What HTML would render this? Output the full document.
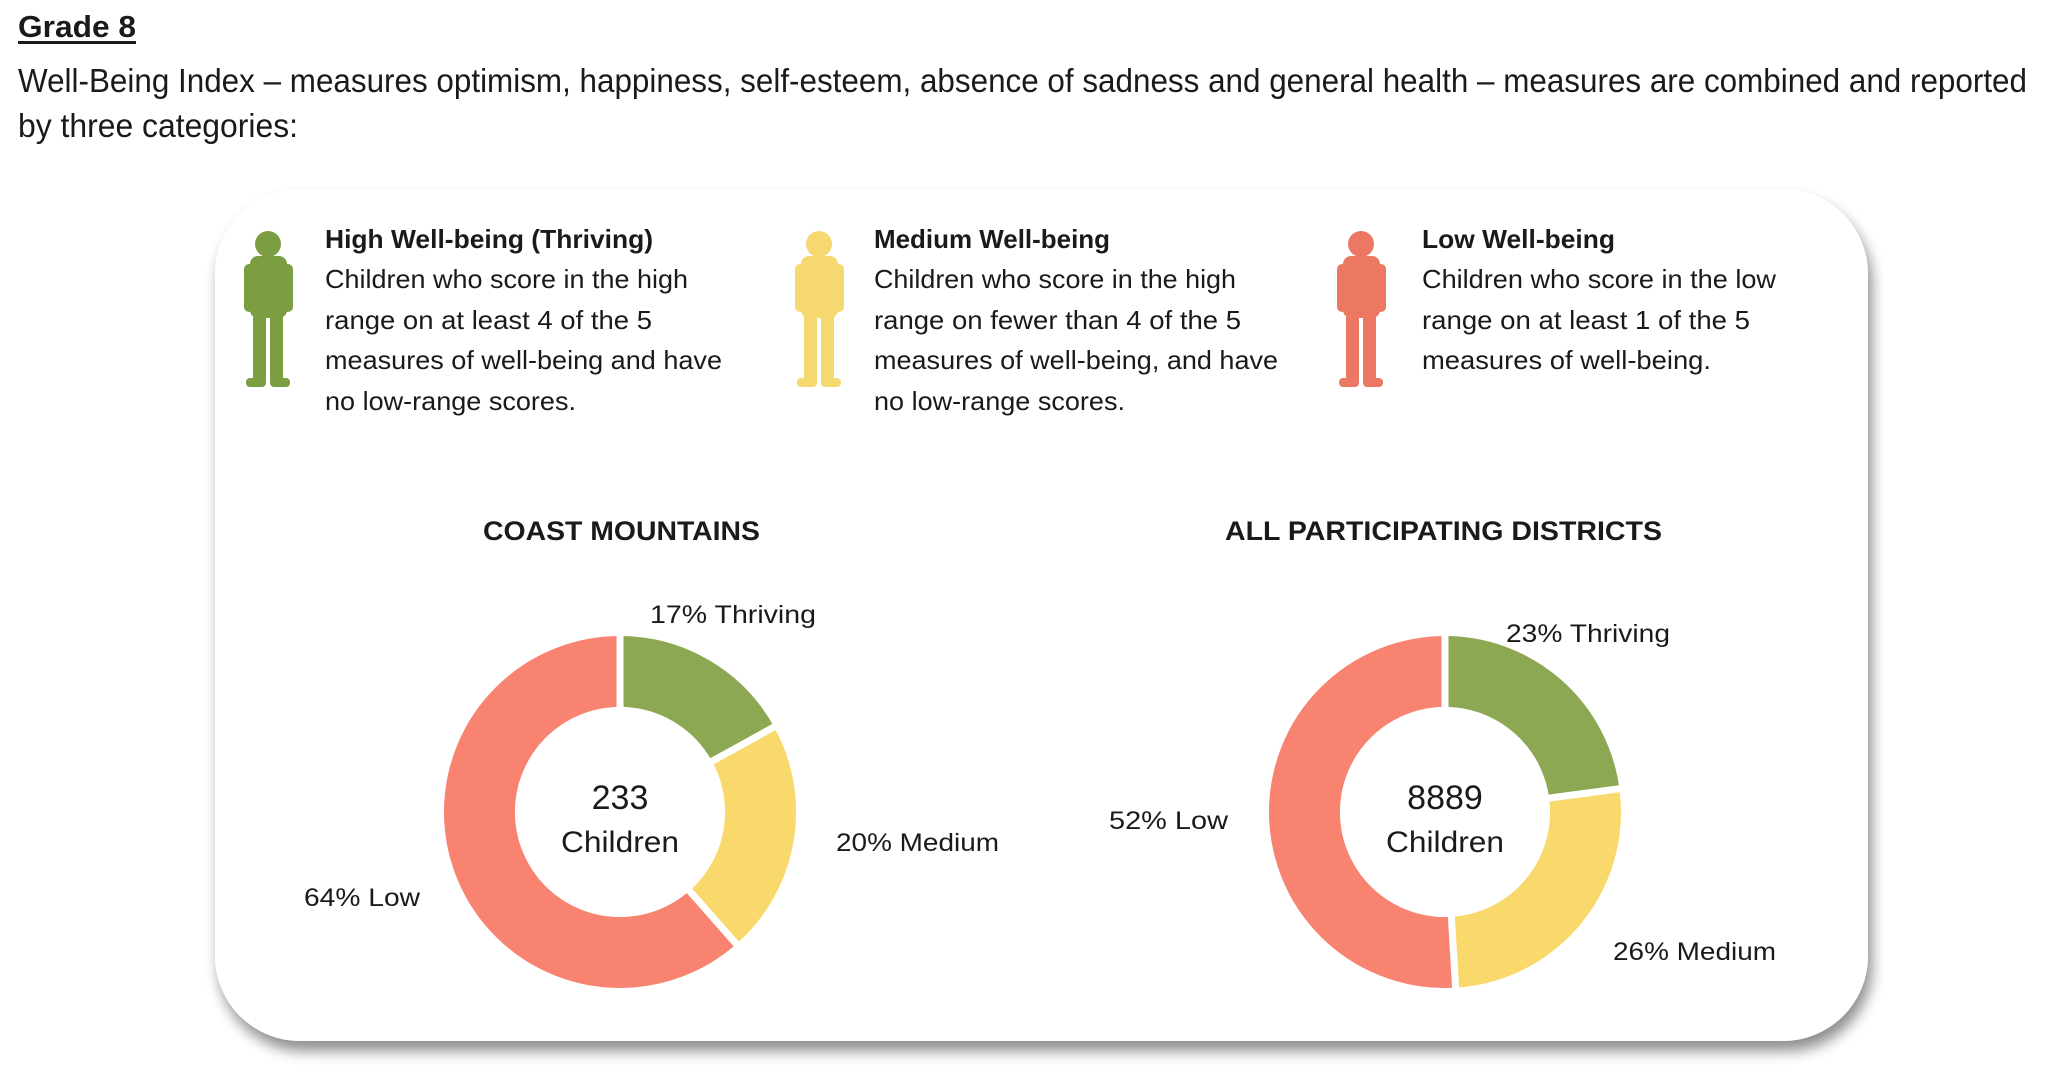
<!DOCTYPE html>
<html><head><meta charset="utf-8"><style>
html,body{margin:0;padding:0;background:#fff}
svg{display:block}
text{font-family:"Liberation Sans",sans-serif;fill:#1a1a1a}
.c{font-family:"Liberation Sans",sans-serif;fill:#333}
</style></head><body>
<svg width="2048" height="1076" viewBox="0 0 2048 1076">
<defs>
<filter id="sh" x="-5%" y="-5%" width="112%" height="115%">
<feGaussianBlur in="SourceAlpha" stdDeviation="7"/>
<feOffset dx="4" dy="10"/>
<feComponentTransfer><feFuncA type="linear" slope="0.45"/></feComponentTransfer>
<feMerge><feMergeNode/><feMergeNode in="SourceGraphic"/></feMerge>
</filter>
<g id="kid">
<circle cx="26" cy="18" r="13"/>
<rect x="8" y="30" width="37" height="62" rx="8"/>
<rect x="2" y="38" width="10" height="48" rx="5"/>
<rect x="41" y="38" width="10" height="48" rx="5"/>
<rect x="11" y="88" width="13" height="70" rx="4"/>
<rect x="28" y="88" width="13" height="70" rx="4"/>
<rect x="4" y="152" width="20" height="9" rx="4"/>
<rect x="28" y="152" width="20" height="9" rx="4"/>
</g>
</defs>
<text x="18" y="37" font-size="31" font-weight="bold" textLength="118" lengthAdjust="spacingAndGlyphs">Grade 8</text>
<rect x="18" y="41" width="118" height="3" fill="#1a1a1a"/>
<text x="18" y="92" font-size="33" textLength="2009" lengthAdjust="spacingAndGlyphs">Well-Being Index – measures optimism, happiness, self-esteem, absence of sadness and general health – measures are combined and reported</text>
<text x="18" y="137" font-size="33" textLength="280" lengthAdjust="spacingAndGlyphs">by three categories:</text>

<rect x="215" y="189" width="1653" height="852" rx="85" fill="#fff" filter="url(#sh)"/>

<use href="#kid" x="242" y="226" fill="#7c9e42"/>
<use href="#kid" x="793" y="226" fill="#f6d870"/>
<use href="#kid" x="1335" y="226" fill="#ec7763"/>

<g font-size="26" class="c">
<text x="325" y="248" font-weight="bold" textLength="328" lengthAdjust="spacingAndGlyphs">High Well-being (Thriving)</text>
<text x="325" y="288" textLength="363" lengthAdjust="spacingAndGlyphs">Children who score in the high</text>
<text x="325" y="329" textLength="327" lengthAdjust="spacingAndGlyphs">range on at least 4 of the 5</text>
<text x="325" y="369" textLength="397" lengthAdjust="spacingAndGlyphs">measures of well-being and have</text>
<text x="325" y="410" textLength="251" lengthAdjust="spacingAndGlyphs">no low-range scores.</text>

<text x="874" y="248" font-weight="bold" textLength="236" lengthAdjust="spacingAndGlyphs">Medium Well-being</text>
<text x="874" y="288" textLength="362" lengthAdjust="spacingAndGlyphs">Children who score in the high</text>
<text x="874" y="329" textLength="367" lengthAdjust="spacingAndGlyphs">range on fewer than 4 of the 5</text>
<text x="874" y="369" textLength="404" lengthAdjust="spacingAndGlyphs">measures of well-being, and have</text>
<text x="874" y="410" textLength="251" lengthAdjust="spacingAndGlyphs">no low-range scores.</text>

<text x="1422" y="248" font-weight="bold" textLength="193" lengthAdjust="spacingAndGlyphs">Low Well-being</text>
<text x="1422" y="288" textLength="354" lengthAdjust="spacingAndGlyphs">Children who score in the low</text>
<text x="1422" y="329" textLength="328" lengthAdjust="spacingAndGlyphs">range on at least 1 of the 5</text>
<text x="1422" y="369" textLength="289" lengthAdjust="spacingAndGlyphs">measures of well-being.</text>
</g>

<text x="483" y="540" font-size="27" font-weight="bold" textLength="277" lengthAdjust="spacingAndGlyphs">COAST MOUNTAINS</text>
<text x="1225" y="540" font-size="27" font-weight="bold" textLength="437" lengthAdjust="spacingAndGlyphs">ALL PARTICIPATING DISTRICTS</text>

<!-- donut 1 -->
<g transform="translate(620,812) rotate(-90)" fill="none" stroke-width="71">
<circle r="140.5" stroke="#8ca852" stroke-dasharray="150.1 1000" stroke-dashoffset="0"/>
<circle r="140.5" stroke="#f9d96c" stroke-dasharray="189.8 1000" stroke-dashoffset="-150.1"/>
<circle r="140.5" stroke="#f88371" stroke-dasharray="543 1000" stroke-dashoffset="-339.9"/>
</g>
<g stroke="#fff" stroke-width="7">
<line x1="620" y1="812" x2="620" y2="630"/>
<line x1="620" y1="812" x2="779.5" y2="724"/>
<line x1="620" y1="812" x2="740.3" y2="948.5"/>
</g>
<circle cx="620" cy="812" r="105" fill="#fff"/>
<text x="620" y="809" font-size="34" text-anchor="middle">233</text>
<text x="620" y="852" font-size="30" text-anchor="middle" textLength="118" lengthAdjust="spacingAndGlyphs">Children</text>

<!-- donut 2 -->
<g transform="translate(1445,812) rotate(-90)" fill="none" stroke-width="71">
<circle r="140.5" stroke="#8ca852" stroke-dasharray="203 1000"/>
<circle r="140.5" stroke="#f9d96c" stroke-dasharray="229.5 1000" stroke-dashoffset="-203"/>
<circle r="140.5" stroke="#f88371" stroke-dasharray="450.3 1000" stroke-dashoffset="-432.5"/>
</g>
<g stroke="#fff" stroke-width="7">
<line x1="1445" y1="812" x2="1445" y2="630"/>
<line x1="1445" y1="812" x2="1625" y2="788"/>
<line x1="1445" y1="812" x2="1456" y2="994"/>
</g>
<circle cx="1445" cy="812" r="105" fill="#fff"/>
<text x="1445" y="809" font-size="34" text-anchor="middle">8889</text>
<text x="1445" y="852" font-size="30" text-anchor="middle" textLength="118" lengthAdjust="spacingAndGlyphs">Children</text>

<g font-size="25">
<text x="650" y="623" textLength="166" lengthAdjust="spacingAndGlyphs">17% Thriving</text>
<text x="836" y="851" textLength="163" lengthAdjust="spacingAndGlyphs">20% Medium</text>
<text x="304" y="906" textLength="116" lengthAdjust="spacingAndGlyphs">64% Low</text>
<text x="1506" y="642" textLength="164" lengthAdjust="spacingAndGlyphs">23% Thriving</text>
<text x="1109" y="829" textLength="119" lengthAdjust="spacingAndGlyphs">52% Low</text>
<text x="1613" y="960" textLength="163" lengthAdjust="spacingAndGlyphs">26% Medium</text>
</g>
</svg>
</body></html>
